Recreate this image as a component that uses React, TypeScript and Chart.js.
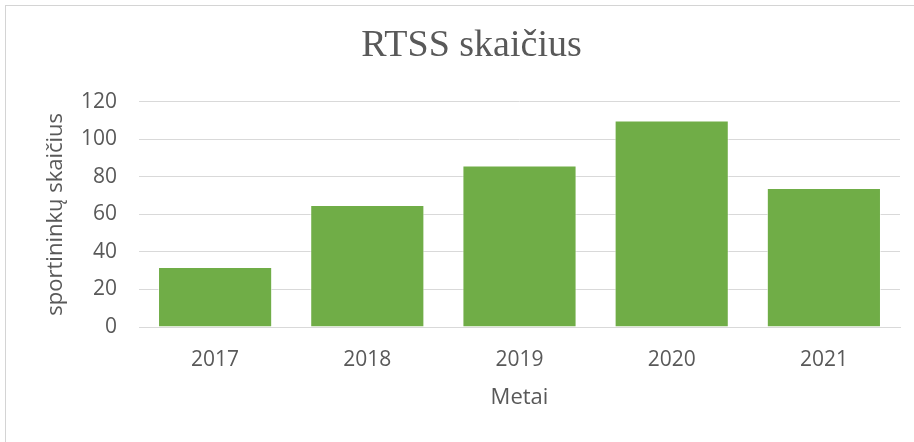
import React, { useEffect, useRef } from "react";
import { Chart, registerables } from "chart.js";

Chart.register(...registerables);

const years = ["2017", "2018", "2019", "2020", "2021"];
const athletes = [32, 65, 86, 110, 74];
const yTicksMin = 0;
const yTicksMax = 120;
const yStep = 20;
const chartTitle = "RTSS skaičius";
const xTitle = "Metai";
const yTitle = "sportininkų skaičius";

const TEXT = "#595959";
const GRID = "#d9d9d9";
const SANS = "'Open Sans', 'DejaVu Sans', sans-serif";

export default function App() {
  const ref = useRef<HTMLCanvasElement | null>(null);

  useEffect(() => {
    if (!ref.current) return;
    const chart = new Chart(ref.current, {
      type: "bar",
      data: {
        labels: years,
        datasets: [
          {
            data: athletes,
            backgroundColor: "#70AD47",
            borderColor: "rgba(255,255,255,0.6)",
            borderWidth: 1,
            categoryPercentage: 0.75,
            barPercentage: 1,
          },
        ],
      },
      options: {
        responsive: false,
        animation: false,
        layout: { padding: { left: 43, right: 14, top: 0, bottom: 31 } },
        plugins: {
          legend: { display: false },
          tooltip: { enabled: false },
          title: {
            display: true,
            text: chartTitle,
            color: TEXT,
            font: { family: "'Liberation Serif', 'Times New Roman', serif", size: 38, weight: "normal" },
            padding: { top: 23, bottom: 33 },
          },
        },
        scales: {
          x: {
            grid: { display: false, drawTicks: false },
            border: { display: true, color: GRID },
            ticks: { color: TEXT, font: { family: SANS, size: 21 }, padding: 20 },
            title: {
              display: true,
              text: xTitle,
              color: TEXT,
              font: { family: SANS, size: 22 },
              padding: 0,
            },
            afterFit: (s: any) => {
              s.height = 84;
            },
          },
          y: {
            min: yTicksMin,
            max: yTicksMax,
            grid: { color: GRID, drawTicks: false, lineWidth: 1 },
            border: { display: false },
            ticks: { stepSize: yStep, color: TEXT, font: { family: SANS, size: 21 }, padding: 22 },
            title: {
              display: true,
              text: yTitle,
              color: TEXT,
              font: { family: SANS, size: 22 },
              padding: 0,
            },
            afterFit: (s: any) => {
              s.width = 96;
            },
          },
        },
      },
    });
    return () => chart.destroy();
  }, []);

  return (
    <div
      style={{
        position: "fixed",
        left: 0,
        top: 0,
        width: 914,
        height: 442,
        background: "#ffffff",
      }}
    >
      <div
        style={{
          position: "absolute",
          left: 5,
          top: 5,
          right: 0,
          bottom: 0,
          borderLeft: "1px solid #d4d4d4",
          borderTop: "1px solid #d4d4d4",
        }}
      />
      <canvas
        ref={ref}
        width={914}
        height={442}
        style={{ position: "absolute", left: 0, top: 0, width: 914, height: 442 }}
      />
    </div>
  );
}
